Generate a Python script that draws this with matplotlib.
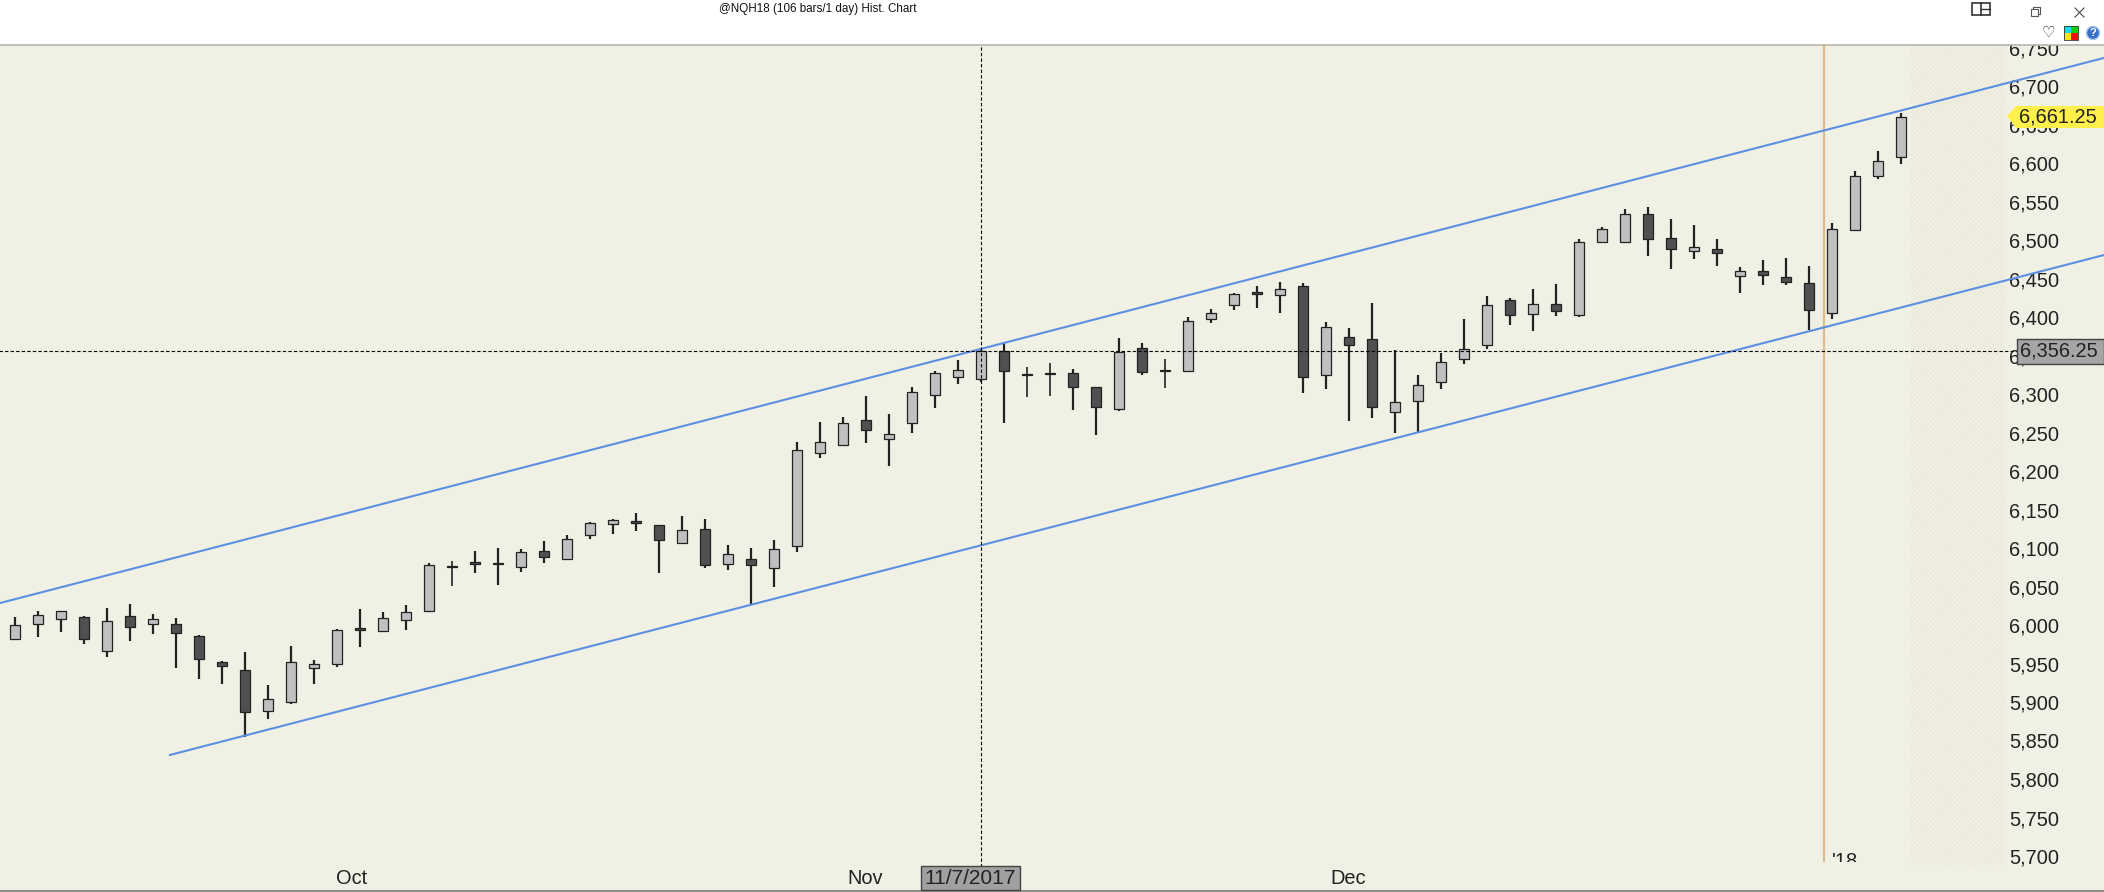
import matplotlib
matplotlib.use("Agg")
import matplotlib.pyplot as plt
from matplotlib.patches import Rectangle, Polygon, Circle
import numpy as np

plt.rcParams['font.family'] = ['Liberation Sans', 'DejaVu Sans']
plt.rcParams['hatch.linewidth'] = 0.5

# Daily candles
opens = [5981.5, 6001.75, 6008.25, 6010, 5966.75, 6011.25, 6001.75, 6001, 5985.75, 5951.5, 5941, 5888.75,
         5900.5, 5944.5, 5949.75, 5995.75, 5992.5, 6006, 6018.5, 6076.25, 6081.5, 6080, 6075.75, 6095.75,
         6085.25, 6117.25, 6131.5, 6134.5, 6129.5, 6106, 6124.25, 6079.5, 6085.25, 6074.5, 6103, 6223.75,
         6234.25, 6265.75, 6241, 6262.75, 6299, 6322.5, 6320, 6356.25, 6325.5, 6327.25, 6326.75, 6308.75,
         6281, 6359.25, 6330.75, 6330.25, 6397, 6416, 6432, 6428.25, 6440, 6324.25, 6373.5, 6371,
         6276.25, 6291.25, 6316, 6345, 6363.25, 6421.75, 6404.25, 6416.5, 6403, 6498, 6497.75, 6533.25,
         6502, 6486, 6487.75, 6453.5, 6459.25, 6451.5, 6443.75, 6404.75, 6512.5, 6583.5, 6607.25]
closes = [5999.5, 6012.5, 6017.75, 5981.5, 6004.75, 5997.75, 6007.5, 5990, 5956.25, 5947.25, 5887.5, 5903.5,
          5951.5, 5949, 5993, 5993, 6008.75, 6016.5, 6077.5, 6075.75, 6078.75, 6078.75, 6094.5, 6088,
          6111.25, 6132, 6136, 6132, 6110.75, 6123, 6078.25, 6091.75, 6078.25, 6098.25, 6226.75, 6237.25,
          6262, 6253.75, 6247.5, 6302.25, 6326.75, 6330.75, 6355.5, 6330.25, 6325, 6326.5, 6309.5, 6282.75,
          6355, 6329, 6330.25, 6394.5, 6404.75, 6429.5, 6430, 6436, 6322.5, 6386.5, 6364, 6283.5,
          6289.25, 6311.25, 6341, 6358, 6415.25, 6403, 6416.5, 6408.25, 6497, 6514, 6533.25, 6500.75,
          6488.75, 6490.5, 6483.5, 6459.25, 6454, 6445.75, 6408.5, 6513.75, 6582.75, 6602, 6659.25]
highs = [6010, 6017.75, 6017.75, 6011.75, 6021.75, 6026.75, 6014.25, 6008.75, 5987, 5952.75, 5964.5, 5921.5,
         5972.25, 5954, 5994.75, 6020.5, 6016.5, 6025.5, 6080, 6082.75, 6095.75, 6099.5, 6098.25, 6108.75,
         6116.75, 6133.75, 6137.5, 6145, 6129.5, 6141, 6137.25, 6103.5, 6099.5, 6110, 6237.25, 6263.25,
         6269.75, 6297, 6273.5, 6308.75, 6329.5, 6343.75, 6360.25, 6365.75, 6334.5, 6339.75, 6332, 6308.75,
         6372.25, 6365.75, 6345, 6399.5, 6410, 6430.75, 6440, 6445, 6443.75, 6393, 6385.25, 6417.75,
         6356.75, 6324.25, 6352.75, 6397, 6427, 6425, 6436, 6442.5, 6501, 6516.5, 6539.75, 6543.25,
         6526.75, 6519, 6500.75, 6464.5, 6473.5, 6476, 6465.75, 6521.5, 6589.25, 6615, 6664.5]
lows = [5981.5, 5984.75, 5991.25, 5975.75, 5959, 5979.75, 5988.75, 5944.5, 5930.25, 5923.75, 5855, 5878.25,
        5897.75, 5923.75, 5946, 5972, 5992.5, 5994, 6017.25, 6051, 6068, 6052.5, 6069.25, 6081,
        6085.25, 6112, 6118.5, 6122.5, 6068, 6105.5, 6074.5, 6071.75, 6026, 6049.75, 6095.25, 6217.25,
        6234.25, 6236.75, 6207, 6249.75, 6282.25, 6313.5, 6315.5, 6262.75, 6296.5, 6297.75, 6279.5, 6247.25,
        6278.25, 6325, 6308.25, 6329, 6392.75, 6409.5, 6412, 6405.5, 6301.75, 6307, 6265.5, 6269.25,
        6249.75, 6251, 6307, 6339.5, 6359, 6390, 6382.25, 6401.75, 6400.5, 6496.5, 6497, 6479.5,
        6462.75, 6475.75, 6466.5, 6431.5, 6442, 6442, 6382.5, 6397.75, 6511.25, 6579.5, 6599]

# Channel lines: bar position and price at each end
upper_x = [-0.65, 90.83]
upper_y = [6028.5, 6736.5]
lower_x = [6.74, 90.83]
lower_y = [5831.25, 6480.5]

price_ticks = [5700, 5750, 5800, 5850, 5900, 5950, 6000, 6050, 6100, 6150, 6200, 6250, 6300, 6350, 6400,
               6450, 6500, 6550, 6600, 6650, 6700, 6750]
month_pos = [14.65, 36.96, 57.96, 78.65]
month_labels = ["Oct", "Nov", "Dec", "Jan"]

cross_bar = 42
cross_price = 6356.25
cross_date = "11/7/2017"
last_price = "6,661.25"
cross_text = "6,356.25"
year_bar = 78.65
title = "@NQH18 (106 bars/1 day) Hist. Chart"

BG = "#F0F0E4"
INK = "#222222"
BLUE = "#5C8FE3"

W, H = 2104, 892
fig = plt.figure(figsize=(W / 100, H / 100), dpi=100, facecolor="white")

# price panel runs from y=45 to y=890 in pixels, one bar every 23 px
ax = fig.add_axes([0, (H - 890) / H, 1, (890 - 45) / H], facecolor=BG)
ax.set_xlim(-15 / 23, (W - 15) / 23)
ax.set_ylim(6400 - (890 - 317) / 0.77, 6400 + (317 - 45) / 0.77)
for s in ax.spines.values():
    s.set_visible(False)

# future-bars shading, hatched
ax.add_patch(Rectangle((82.45, 5688), 4.09, 1200, facecolor=BG, edgecolor="#E9E8D8", hatch="xxxxxxx", lw=0, zorder=1))

xs = np.arange(len(opens))
tops = np.maximum(opens, closes)
bots = np.minimum(opens, closes)
colors = ["#C0C0C0" if c >= o else "#505050" for o, c in zip(opens, closes)]
thin = np.abs(np.array(opens) - np.array(closes)) < 1

ax.vlines(xs[~thin], np.array(lows)[~thin], np.array(highs)[~thin], color=INK, lw=1.6, zorder=3)
ax.vlines(xs[thin], np.array(lows)[thin], np.array(highs)[thin], color=INK, lw=1.2, zorder=3)
ax.bar(xs, tops - bots, bottom=bots, width=0.42, color=colors, edgecolor=INK, linewidth=0.9, zorder=4)

ax.plot(upper_x, upper_y, color=BLUE, lw=1.5, zorder=5)
ax.plot(lower_x, lower_y, color=BLUE, lw=1.5, zorder=5)

# crosshair and year divider
ax.vlines(cross_bar, 5672, 6800, color="black", lw=0.8, ls=(0, (3, 2)), zorder=6)
ax.hlines(cross_price, -1, 87.0, color="black", lw=0.8, ls=(0, (3, 2)), zorder=6)
ax.vlines(year_bar, 5692, 6800, color="#DDBB8C", lw=1.6, zorder=2)
ax.text(year_bar + 0.35, 5705, "'18", fontsize=14.4, color=INK, va="top", ha="left", zorder=2)
ax.add_patch(Rectangle((77, 5655), 5.4, 37, facecolor=BG, lw=0, zorder=2.5))

ax.yaxis.tick_right()
ax.set_yticks(price_ticks)
ax.set_yticklabels([f"{p:,}" for p in price_ticks], fontsize=14.4, color=INK)
ax.tick_params(axis="y", length=0, pad=-68.4)
ax.set_xticks(month_pos)
ax.set_xticklabels(month_labels, fontsize=14.4, color=INK)
ax.tick_params(axis="x", length=0, pad=-15)

# window chrome and price tags, in pixel coordinates
over = fig.add_axes([0, 0, 1, 1], facecolor="none")
over.set_xlim(0, W)
over.set_ylim(H, 0)
over.axis("off")
over.add_patch(Rectangle((0, 0), W, 45, facecolor="white", lw=0))
over.plot([0, W], [45, 45], color="#B5B5AD", lw=1.2)
over.plot([0, W], [890.5, 890.5], color="#8A8A82", lw=1.4)
over.text(818, 9, title, fontsize=8.35, color="#111111", ha="center", va="center")

# layout, restore, close icons
over.add_patch(Rectangle((1972, 3), 18, 12, facecolor="white", edgecolor="#333333", lw=1.2))
over.plot([1981, 1981], [3, 15], color="#333333", lw=1.2)
over.plot([1981, 1990], [9, 9], color="#333333", lw=1.0)
over.add_patch(Rectangle((2031, 9), 7, 7, facecolor="white", edgecolor="#555555", lw=0.8))
over.plot([2033, 2033, 2040, 2040, 2038], [9, 7, 7, 14, 14], color="#555555", lw=0.8)
over.plot([2075, 2084], [8, 17], color="#444444", lw=0.8)
over.plot([2075, 2084], [17, 8], color="#444444", lw=0.8)
over.text(2048, 32, "\u2661", fontsize=11, color="#222222", ha="center", va="center", family="DejaVu Sans")
over.add_patch(Rectangle((2064, 26), 7, 7, facecolor="#18D8F0", lw=0))
over.add_patch(Rectangle((2071, 26), 7, 7, facecolor="#10D010", lw=0))
over.add_patch(Rectangle((2064, 33), 7, 7, facecolor="#F8E810", lw=0))
over.add_patch(Rectangle((2071, 33), 7, 7, facecolor="#E81010", lw=0))
over.add_patch(Rectangle((2064, 26), 14, 14, fill=False, edgecolor="#333333", lw=0.6))
over.add_patch(Circle((2093, 33), 6.5, facecolor="#3A6FC8", edgecolor="#A8C4EC", lw=1))
over.text(2093, 33, "?", fontsize=8, color="white", ha="center", va="center", fontweight="bold")

# last price tag
over.add_patch(Polygon([(2007, 116), (2016, 106), (2104, 106), (2104, 128), (2016, 128)], closed=True,
                       facecolor="#FFF04C", lw=0, zorder=8))
over.text(2058, 117, last_price, fontsize=14.4, color=INK, ha="center", va="center", zorder=9)

# crosshair price and date boxes
over.add_patch(Rectangle((2017, 339), 87, 25, facecolor="#A3A5A6", edgecolor="#444444", lw=1, zorder=8))
over.text(2059, 351, cross_text, fontsize=14.4, color=INK, ha="center", va="center", zorder=9)
over.add_patch(Rectangle((921, 866), 99, 24, facecolor="#A0A0A0", edgecolor="#444444", lw=1, zorder=8))
over.text(970.5, 878, cross_date, fontsize=15, color=INK, ha="center", va="center", zorder=9)

fig.savefig("out.png", dpi=100)
